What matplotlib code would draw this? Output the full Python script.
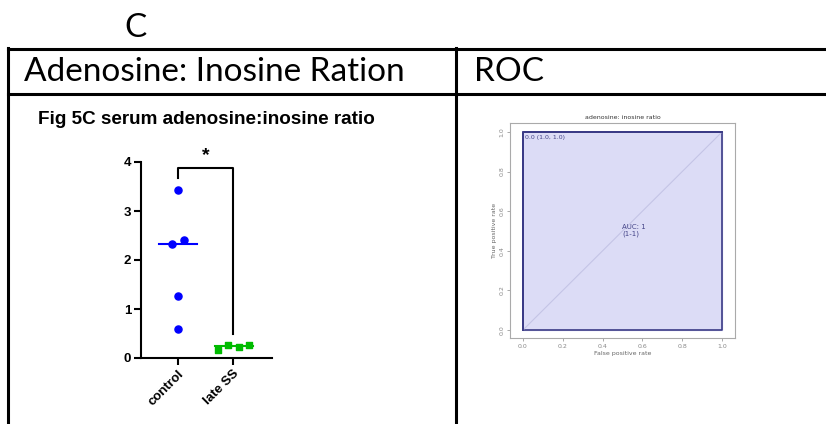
"""Recreate the adenosine:inosine ratio figure panel with its ROC inset."""

import matplotlib

matplotlib.use("Agg")
import matplotlib.pyplot as plt
from matplotlib.lines import Line2D

FIG_W, FIG_H = 826, 424

# dot plot data
groups = ["control", "late SS"]
control_values = [3.43, 2.40, 2.32, 1.26, 0.59]
control_offsets = [0.0, 0.11, -0.11, 0.0, 0.0]
late_values = [0.17, 0.26, 0.22, 0.26]
late_offsets = [-0.27, -0.09, 0.11, 0.29]
control_median = 2.33
late_median = 0.24
y_ticks = [0, 1, 2, 3, 4]

# ROC data
roc_fpr = [0.0, 0.0, 1.0]
roc_tpr = [0.0, 1.0, 1.0]
roc_ticks = [0.0, 0.2, 0.4, 0.6, 0.8, 1.0]


def px_box(left, top, right, bottom):
    """Convert a pixel box to figure-fraction [l, b, w, h]."""
    return [left / FIG_W, 1 - bottom / FIG_H, (right - left) / FIG_W, (bottom - top) / FIG_H]


def fx(x):
    return x / FIG_W


def fy(y):
    return 1 - y / FIG_H


fig = plt.figure(figsize=(FIG_W / 100, FIG_H / 100), dpi=100)

# table frame
line_kw = dict(color="black", lw=2.2, transform=fig.transFigure)
fig.add_artist(Line2D([fx(8), fx(826)], [fy(49), fy(49)], **line_kw))
fig.add_artist(Line2D([fx(8), fx(826)], [fy(94), fy(94)], **line_kw))
fig.add_artist(Line2D([fx(8), fx(8)], [fy(48), fy(424)], **line_kw))
fig.add_artist(Line2D([fx(456), fx(456)], [fy(48), fy(424)], **line_kw))

header_font = dict(family=["Lato", "DejaVu Sans"], fontsize=24, color="black")
fig.text(fx(136), fy(28), "C", ha="center", va="center", **header_font)
fig.text(fx(24), fy(72), "Adenosine: Inosine Ration", ha="left", va="center", **header_font)
fig.text(fx(474), fy(72), "ROC", ha="left", va="center", **header_font)

# left panel: dot plot
fig.text(fx(38), fy(120), "Fig 5C serum adenosine:inosine ratio", ha="left", va="center",
         family="Liberation Sans", fontweight="bold", fontsize=13.6)

ax = fig.add_axes(px_box(141, 162, 272, 358))
ax.scatter([0 + o for o in control_offsets], control_values, s=26, color="#0000ff",
           zorder=3, clip_on=False)
ax.scatter([1 + o for o in late_offsets], late_values, s=24, color="#00bb00", marker="s",
           zorder=3, clip_on=False)
ax.plot([-0.35, 0.35], [control_median, control_median], color="#0000ff", lw=1.5)
ax.plot([0.67, 1.36], [late_median, late_median], color="#00bb00", lw=1.5, zorder=4)

# significance bracket
ax.plot([0, 0, 1, 1], [3.68, 3.88, 3.88, 0.5], color="black", lw=1.5, clip_on=False)
ax.text(0.5, 4.13, "*", ha="center", va="center", fontsize=14, fontweight="bold",
        family="Liberation Sans")

ax.set_xlim(-0.67, 1.71)
ax.set_ylim(0, 4)
ax.set_yticks(y_ticks)
ax.set_xticks([0, 1])
ax.set_xticklabels(groups, rotation=45, ha="right", rotation_mode="anchor")
for label in ax.get_xticklabels() + ax.get_yticklabels():
    label.set_family("Liberation Sans")
    label.set_fontweight("bold")
    label.set_fontsize(9.5)
ax.tick_params(width=1.5, length=5, pad=2)
ax.spines["top"].set_visible(False)
ax.spines["right"].set_visible(False)
ax.spines["left"].set_linewidth(1.5)
ax.spines["bottom"].set_linewidth(1.5)

# right panel: ROC curve
rax = fig.add_axes(px_box(510, 123, 735, 338))
rax.fill_between([0, 1], [0, 0], [1, 1], color="#dcdcf6", zorder=1)
rax.plot([0, 1, 1, 0, 0], [0, 0, 1, 1, 0], color="#3b3b86", lw=1.2, zorder=2)
rax.plot(roc_fpr, roc_tpr, color="#3b3b86", lw=1.4, zorder=3)
rax.plot([0, 1], [0, 1], color="#c4c4e6", lw=0.8, zorder=2)
rax.set_xlim(-0.065, 1.065)
rax.set_ylim(-0.04, 1.045)
rax.set_xticks(roc_ticks)
rax.set_yticks(roc_ticks)
rax.set_xticklabels([f"{t:.1f}" for t in roc_ticks])
rax.set_yticklabels([f"{t:.1f}" for t in roc_ticks], rotation=90, va="center")
rax.tick_params(labelsize=4.5, colors="#888888", length=2, width=0.5, pad=2)
for spine in rax.spines.values():
    spine.set_color("#aaaaaa")
    spine.set_linewidth(0.8)
rax.set_title("adenosine: inosine ratio", fontsize=4.5, color="#333333", pad=3)
rax.set_xlabel("False positive rate", fontsize=4.5, color="#666666", labelpad=2)
rax.set_ylabel("True positive rate", fontsize=4.5, color="#666666", labelpad=2)
rax.text(0.01, 0.985, "0.0 (1.0, 1.0)", fontsize=4.5, color="#444488", ha="left", va="top")
rax.text(0.5, 0.5, "AUC: 1\n(1-1)", fontsize=5, color="#444488", ha="left", va="center",
         linespacing=1.1)

fig.savefig("out.png", dpi=100)
